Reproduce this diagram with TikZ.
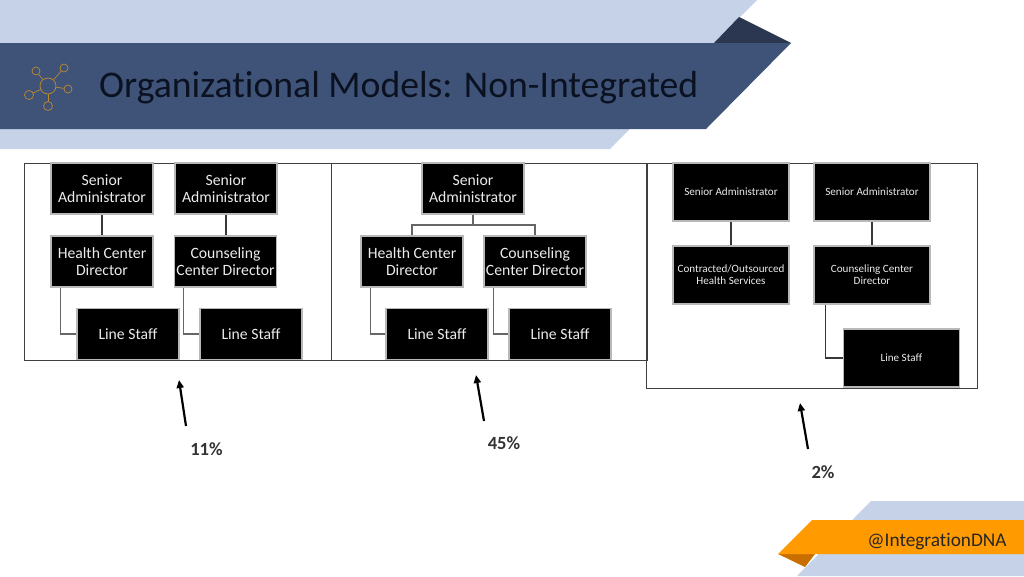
\documentclass[tikz,border=0pt]{standalone}
\usepackage{fontspec}
\setmainfont[Ligatures=CommonOff]{Carlito}
\usetikzlibrary{arrows.meta}
\definecolor{lightband}{HTML}{C5D2E8}
\definecolor{darkband}{HTML}{3F5278}
\definecolor{foldnavy}{HTML}{2B3750}
\definecolor{titleink}{HTML}{0A1120}
\definecolor{tagorange}{HTML}{FF9A00}
\definecolor{tagfold}{HTML}{C96F00}
\definecolor{iconline}{HTML}{C08A30}
\tikzset{
  x=1pt,y=-1pt,
  orgbox/.style={draw=black!28,line width=1.5pt,fill=black,text=white!92!black,align=center,inner sep=0pt,font=\fontsize{15.7}{17.6}\selectfont},
  small/.style={orgbox,minimum width=102pt,minimum height=51pt},
  wide/.style={orgbox,minimum width=116pt,minimum height=58pt,line width=1.3pt,font=\fontsize{11.1}{12}\selectfont},
  panel/.style={draw=black!75,line width=0.8pt,inner sep=0pt},
  link/.style={draw=black!60,line width=1.1pt},
  linkdark/.style={draw=black!78,line width=1.1pt},
  pointer/.style={draw=black,line width=2.2pt,-{Triangle[width=7pt,length=8pt]}},
  pct/.style={font=\fontsize{18.6}{20}\selectfont\bfseries,text=black!80,inner sep=0pt},
  hub/.style={circle,draw=iconline,line width=0.7pt,inner sep=0pt},
  spoke/.style={draw=iconline,line width=0.7pt}
}
\begin{document}
\begin{tikzpicture}
\useasboundingbox (0,0) rectangle (1024,576);
\fill[white] (0,0) rectangle (1024,576);
% header
\fill[lightband] (0,0) -- (757,0) -- (610,149) -- (0,149) -- cycle;
\fill[foldnavy] (714,43) -- (739,17) -- (791,43) -- cycle;
\fill[darkband] (0,43) -- (791,43) -- (706,129) -- (0,129) -- cycle;
% footer
\fill[lightband] (871,501) -- (1024,501) -- (1024,576) -- (797,576) -- cycle;
\fill[tagfold] (778,554) -- (815,554) -- (805,567) -- cycle;
\fill[tagorange] (812,520) -- (1024,520) -- (1024,554) -- (778,554) -- cycle;
% icon
\node[hub,minimum size=16pt] (ic) at (48,86) {};
\node[hub,minimum size=8pt] (ia) at (36,71) {};
\node[hub,minimum size=8pt] (ib) at (64,68) {};
\node[hub,minimum size=8pt] (id) at (68,89) {};
\node[hub,minimum size=9pt] (ie) at (29,95) {};
\node[hub,minimum size=9pt] (if) at (48,106) {};
\foreach \s in {ia,ib,id,ie,if} \draw[spoke] (ic) -- (\s);
% title
\node[anchor=base west,inner sep=0pt,text=titleink,font=\fontsize{37.7}{40}\selectfont] (title) at (99,97.5) {Organizational Models: Non-Integrated};
\node[anchor=base,inner sep=0pt,text=black!85,font=\fontsize{19.3}{20}\selectfont] (handle) at (937,546) {@IntegrationDNA};
% panels
\node[panel,minimum width=307pt,minimum height=197pt] (p1) at (177.5,261.5) {};
\node[panel,minimum width=316pt,minimum height=197pt] (p2) at (489,261.5) {};
\node[panel,minimum width=331pt,minimum height=225pt] (p3) at (811.5,275.5) {};
% panel 1
\node[small] (a1) at (102,188.5) {Senior\\Administrator};
\node[small] (a2) at (226,188.5) {Senior\\Administrator};
\node[small] (b1) at (102,261.5) {Health Center\\Director};
\node[small] (b2) at (225.5,261.5) {Counseling\\Center Director};
\node[small] (c1) at (128,334) {Line Staff};
\node[small] (c2) at (251,334) {Line Staff};
\draw[linkdark] (a1) -- (b1);
\draw[linkdark] (a2) -- (a2 |- b2.north);
\draw[link] ([xshift=10pt]b1.south west) |- (c1.west);
\draw[link] ([xshift=10pt]b2.south west) |- (c2.west);
% panel 2
\node[small] (a3) at (473,188.5) {Senior\\Administrator};
\node[small] (b3) at (412,261.5) {Health Center\\Director};
\node[small] (b4) at (535,261.5) {Counseling\\Center Director};
\node[small] (c3) at (437,334) {Line Staff};
\node[small] (c4) at (560,334) {Line Staff};
\coordinate (bus) at (473,225);
\draw[link] (a3) -- (bus);
\draw[link] (b3) |- (bus);
\draw[link] (b4) |- (bus);
\draw[link] ([xshift=10pt]b3.south west) |- (c3.west);
\draw[link] ([xshift=10pt]b4.south west) |- (c4.west);
% panel 3
\node[wide] (a5) at (731,192) {Senior Administrator};
\node[wide] (a6) at (872,192) {Senior Administrator};
\node[wide] (b5) at (731,275) {Contracted/Outsourced\\Health Services};
\node[wide] (b6) at (872,275) {Counseling Center\\Director};
\node[wide] (c6) at (901.5,358) {Line Staff};
\draw[linkdark] (a5) -- (b5);
\draw[linkdark] (a6) -- (b6);
\draw[linkdark] ([xshift=12pt]b6.south west) |- (c6.west);
% pointers
\coordinate (s1) at (186,426); \coordinate (e1) at (179,380);
\coordinate (s2) at (484,421); \coordinate (e2) at (476,375);
\coordinate (s3) at (808,449); \coordinate (e3) at (800,403);
\draw[pointer] (s1) -- (e1);
\draw[pointer] (s2) -- (e2);
\draw[pointer] (s3) -- (e3);
\node[pct] (l1) at (206.5,449.5) {11\%};
\node[pct] (l2) at (504,443.5) {45\%};
\node[pct] (l3) at (823,472) {2\%};
\end{tikzpicture}
\end{document}
